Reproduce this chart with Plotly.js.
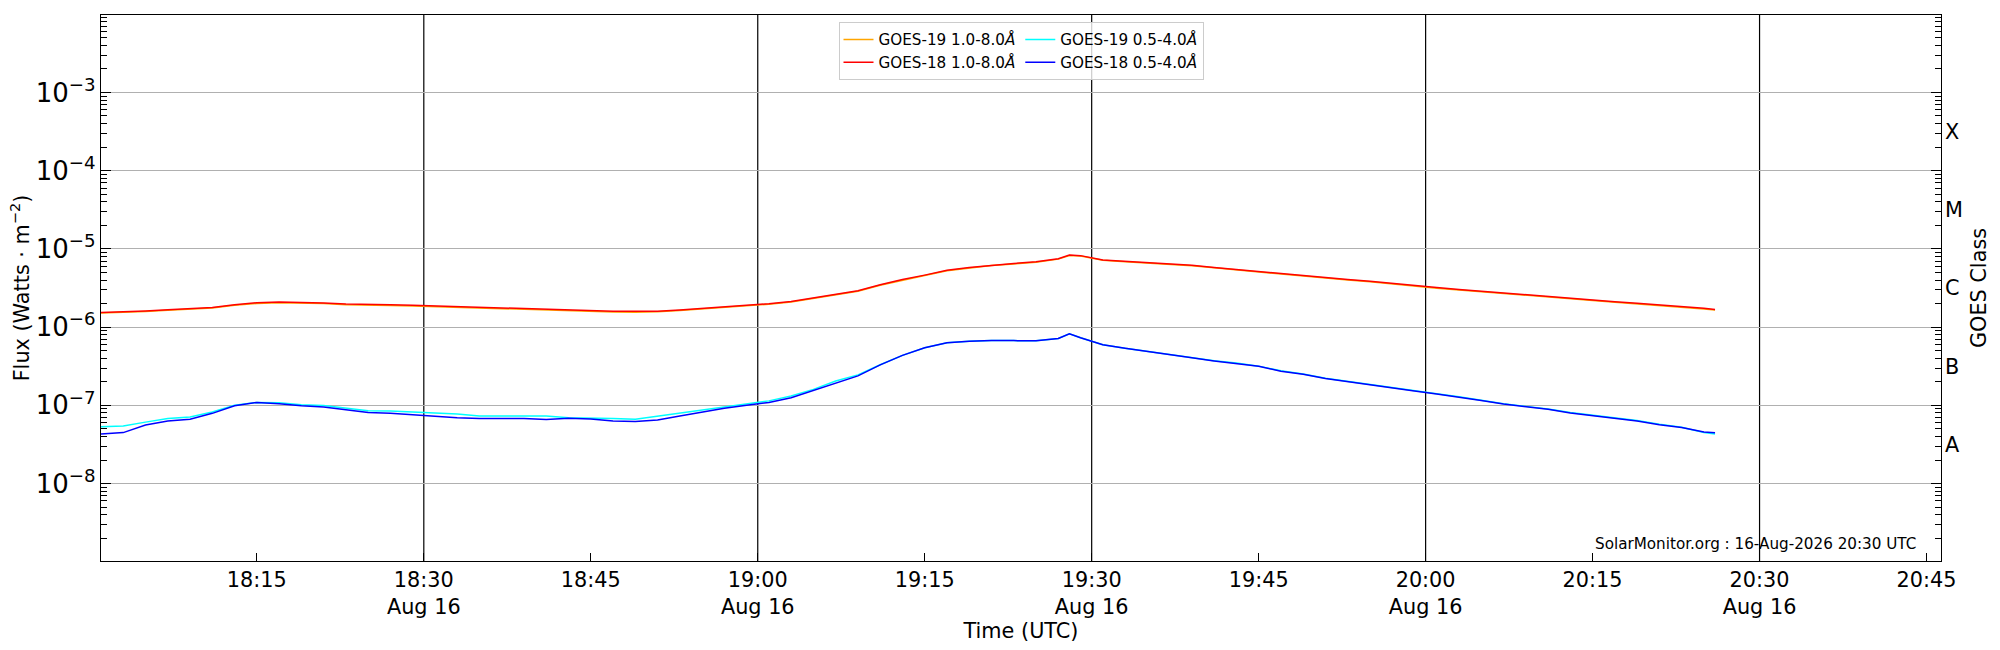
<!DOCTYPE html>
<html>
<head>
<meta charset="utf-8">
<script src="https://cdn.plot.ly/plotly-3.0.1.min.js"></script>
<style>
  body { margin: 0; background: #fff; }
  #goes-plot { width: 2000px; height: 650px; }
</style>
</head>
<body>
<div id="goes-plot"></div>
<script>
var day = "2026-08-16 ";

// sample times (UTC)
var times = [
  "18:01","18:03","18:05","18:07","18:09","18:11","18:13","18:15","18:17","18:19",
  "18:21","18:23","18:25","18:27","18:29","18:31","18:33","18:35","18:37","18:39",
  "18:41","18:43","18:45","18:47","18:49","18:51","18:53","18:55","18:57","18:59",
  "19:01","19:03","19:05","19:07","19:09","19:11","19:13","19:15","19:17","19:19",
  "19:21","19:23","19:25","19:27","19:28","19:29","19:31","19:33","19:35","19:37",
  "19:39","19:41","19:43","19:45","19:47","19:49","19:51","19:53","19:55","19:57",
  "19:59","20:01","20:03","20:05","20:07","20:09","20:11","20:13","20:15","20:17",
  "20:19","20:21","20:23","20:25","20:26"
];

// GOES-18 1.0-8.0 A (W/m^2)
var goes18Long = [
  1.54e-6,1.56e-6,1.61e-6,1.67e-6,1.71e-6,1.78e-6,1.93e-6,2.05e-6,2.09e-6,2.07e-6,
  2.04e-6,1.97e-6,1.93e-6,1.93e-6,1.90e-6,1.86e-6,1.82e-6,1.78e-6,1.75e-6,1.71e-6,
  1.68e-6,1.66e-6,1.63e-6,1.60e-6,1.59e-6,1.60e-6,1.66e-6,1.74e-6,1.80e-6,1.88e-6,
  1.99e-6,2.13e-6,2.36e-6,2.63e-6,2.92e-6,3.48e-6,4.06e-6,4.62e-6,5.32e-6,5.80e-6,
  6.20e-6,6.50e-6,6.85e-6,7.50e-6,8.37e-6,8.20e-6,7.23e-6,6.95e-6,6.70e-6,6.45e-6,
  6.18e-6,5.80e-6,5.45e-6,5.15e-6,4.85e-6,4.55e-6,4.25e-6,4.05e-6,3.85e-6,3.60e-6,
  3.38e-6,3.20e-6,3.03e-6,2.87e-6,2.72e-6,2.58e-6,2.45e-6,2.34e-6,2.22e-6,2.11e-6,
  2.02e-6,1.93e-6,1.83e-6,1.74e-6,1.68e-6
];

// GOES-19 1.0-8.0 A (W/m^2)
var goes19Long = [
  1.51e-6,1.53e-6,1.58e-6,1.64e-6,1.68e-6,1.75e-6,1.90e-6,2.01e-6,2.05e-6,2.03e-6,
  2.00e-6,1.93e-6,1.89e-6,1.89e-6,1.86e-6,1.82e-6,1.78e-6,1.74e-6,1.71e-6,1.67e-6,
  1.64e-6,1.62e-6,1.59e-6,1.56e-6,1.55e-6,1.57e-6,1.63e-6,1.71e-6,1.77e-6,1.85e-6,
  1.96e-6,2.10e-6,2.32e-6,2.59e-6,2.88e-6,3.43e-6,4.00e-6,4.56e-6,5.25e-6,5.72e-6,
  6.12e-6,6.42e-6,6.76e-6,7.40e-6,8.25e-6,8.10e-6,7.14e-6,6.86e-6,6.61e-6,6.36e-6,
  6.10e-6,5.72e-6,5.37e-6,5.08e-6,4.78e-6,4.49e-6,4.19e-6,3.99e-6,3.80e-6,3.55e-6,
  3.33e-6,3.15e-6,2.99e-6,2.83e-6,2.68e-6,2.54e-6,2.41e-6,2.30e-6,2.19e-6,2.08e-6,
  1.99e-6,1.90e-6,1.80e-6,1.71e-6,1.65e-6
];

// GOES-18 0.5-4.0 A (W/m^2)
var goes18Short = [
  4.30e-8,4.48e-8,5.60e-8,6.30e-8,6.65e-8,7.90e-8,9.90e-8,1.09e-7,1.05e-7,9.85e-8,
  9.50e-8,8.70e-8,8.10e-8,7.95e-8,7.60e-8,7.25e-8,6.92e-8,6.77e-8,6.75e-8,6.78e-8,
  6.60e-8,6.85e-8,6.69e-8,6.30e-8,6.20e-8,6.49e-8,7.30e-8,8.20e-8,9.16e-8,1.00e-7,
  1.09e-7,1.25e-7,1.55e-7,1.95e-7,2.38e-7,3.29e-7,4.35e-7,5.45e-7,6.29e-7,6.60e-7,
  6.74e-7,6.72e-7,6.69e-7,7.15e-7,8.22e-7,7.30e-7,5.95e-7,5.35e-7,4.85e-7,4.45e-7,
  4.05e-7,3.70e-7,3.45e-7,3.15e-7,2.73e-7,2.50e-7,2.20e-7,2.00e-7,1.82e-7,1.66e-7,
  1.52e-7,1.40e-7,1.28e-7,1.15e-7,1.04e-7,9.60e-8,8.90e-8,7.98e-8,7.40e-8,6.85e-8,
  6.30e-8,5.65e-8,5.20e-8,4.55e-8,4.46e-8
];

// GOES-19 0.5-4.0 A (W/m^2)
var goes19Short = [
  5.32e-8,5.45e-8,6.10e-8,6.80e-8,7.10e-8,8.20e-8,1.00e-7,1.09e-7,1.08e-7,1.02e-7,
  9.95e-8,9.30e-8,8.55e-8,8.45e-8,8.15e-8,7.95e-8,7.75e-8,7.30e-8,7.30e-8,7.25e-8,
  7.30e-8,6.95e-8,6.95e-8,6.80e-8,6.65e-8,7.30e-8,7.90e-8,8.60e-8,9.60e-8,1.04e-7,
  1.14e-7,1.32e-7,1.60e-7,2.05e-7,2.45e-7,3.30e-7,4.35e-7,5.45e-7,6.29e-7,6.60e-7,
  6.74e-7,6.72e-7,6.69e-7,7.15e-7,8.20e-7,7.30e-7,5.95e-7,5.35e-7,4.87e-7,4.48e-7,
  4.08e-7,3.72e-7,3.47e-7,3.17e-7,2.76e-7,2.52e-7,2.22e-7,2.02e-7,1.84e-7,1.68e-7,
  1.54e-7,1.41e-7,1.29e-7,1.16e-7,1.05e-7,9.70e-8,9.00e-8,8.10e-8,7.50e-8,6.95e-8,
  6.40e-8,5.75e-8,5.25e-8,4.50e-8,4.30e-8
];

// x ticks every 15 min, day label under the half hours
var tickTimes = ["18:15","18:30","18:45","19:00","19:15","19:30","19:45","20:00","20:15","20:30","20:45"];
var dayTicks = ["18:30","19:00","19:30","20:00","20:30"];
var dayLabel = "Aug 16";

// GOES flare classes, placed mid-decade on the right axis
var classNames = ["X","M","C","B","A"];
var classLevels = [3.162e-4, 3.162e-5, 3.162e-6, 3.162e-7, 3.162e-8];

var xRange = [day + "18:01:00", day + "20:46:18"];
var font = "DejaVu Sans";
var bigSize = 20.8;
var smallSize = 15.2;

var stamps = times.map(function(t) { return day + t; });

function series(name, y, color, group, yax) {
    return {
        type: "scatter",
        mode: "lines",
        name: name,
        x: stamps,
        y: y,
        yaxis: yax,
        legendgroup: group,
        line: {color: color, width: 1.5},
        hoverinfo: "skip"
    };
}

var data = [
    series("GOES-19 1.0-8.0<i>Å</i>", goes19Long, "orange", "long", "y"),
    series("GOES-18 1.0-8.0<i>Å</i>", goes18Long, "red", "long", "y2"),
    series("GOES-19 0.5-4.0<i>Å</i>", goes19Short, "cyan", "short", "y"),
    series("GOES-18 0.5-4.0<i>Å</i>", goes18Short, "blue", "short", "y2")
];

var tickText = tickTimes.map(function(t) {
    return dayTicks.indexOf(t) >= 0 ? t + "<br>" + dayLabel : t;
});

// black vertical lines on the half hours
var shapes = dayTicks.map(function(t) {
    return {
        type: "line", xref: "x", yref: "paper",
        x0: day + t, x1: day + t, y0: 0, y1: 1,
        line: {color: "black", width: 1.2},
        layer: "below"
    };
});

var logRange = [-8.99, -2.01];

var layout = {
    width: 2000,
    height: 650,
    margin: {l: 101, r: 59, t: 15, b: 89},
    paper_bgcolor: "white",
    plot_bgcolor: "white",
    font: {family: font, size: bigSize, color: "black"},
    showlegend: true,
    legend: {
        orientation: "h",
        traceorder: "grouped",
        tracegroupgap: 18,
        x: 0.5, xanchor: "center",
        y: 0.987, yanchor: "top",
        font: {family: font, size: smallSize, color: "black"},
        bgcolor: "rgba(255,255,255,0.8)",
        bordercolor: "#cccccc",
        borderwidth: 1
    },
    xaxis: {
        type: "date",
        range: xRange,
        tickmode: "array",
        tickvals: tickTimes.map(function(t) { return day + t; }),
        ticktext: tickText,
        ticks: "inside",
        ticklen: 8,
        tickcolor: "black",
        showgrid: false,
        zeroline: false,
        showline: true,
        linecolor: "black",
        linewidth: 1.3,
        mirror: true,
        title: {text: "Time (UTC)", font: {family: font, size: bigSize}, standoff: 3}
    },
    yaxis: {
        type: "log",
        range: logRange,
        tickmode: "linear",
        tick0: 0,
        dtick: 1,
        exponentformat: "power",
        showexponent: "all",
        ticks: "inside",
        ticklen: 10,
        tickcolor: "black",
        minor: {dtick: "D1", ticks: "inside", ticklen: 6, tickcolor: "black", showgrid: false},
        showgrid: true,
        gridcolor: "#b0b0b0",
        gridwidth: 1,
        zeroline: false,
        showline: true,
        linecolor: "black",
        linewidth: 1.3,
        mirror: "allticks",
        title: {text: "Flux (Watts · m<sup>−2</sup>)", font: {family: font, size: bigSize}, standoff: 0}
    },
    yaxis2: {
        type: "log",
        range: logRange,
        overlaying: "y",
        side: "right",
        tickmode: "array",
        tickvals: classLevels,
        ticktext: classNames,
        ticks: "",
        ticklabelstandoff: 3,
        showgrid: false,
        zeroline: false,
        showline: false,
        title: {text: "GOES Class", font: {family: font, size: bigSize}, standoff: 9}
    },
    shapes: shapes,
    annotations: [{
        xref: "paper", yref: "paper",
        x: 0.9875, y: 0.031,
        xanchor: "right", yanchor: "middle",
        text: "SolarMonitor.org : 16-Aug-2026 20:30 UTC",
        showarrow: false,
        font: {family: font, size: smallSize, color: "black"}
    }]
};

Plotly.newPlot("goes-plot", data, layout, {staticPlot: true});
</script>
</body>
</html>
